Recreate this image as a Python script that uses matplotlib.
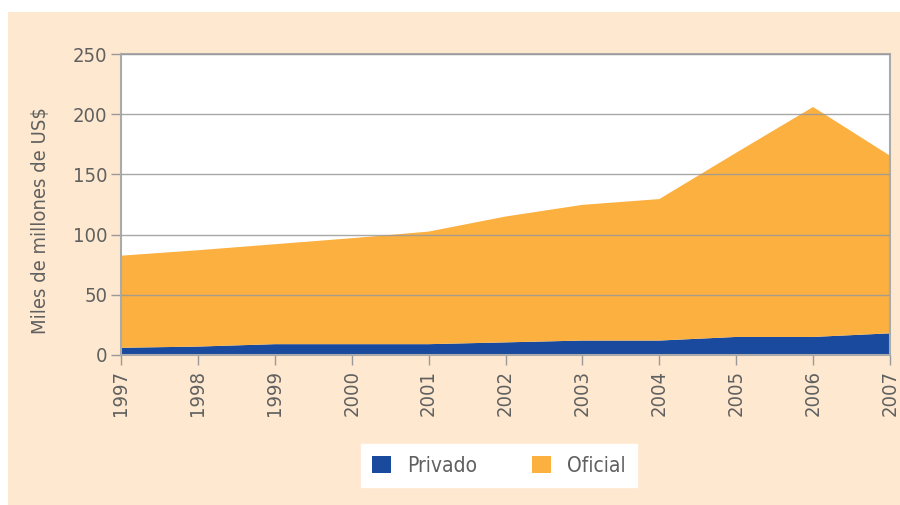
import matplotlib
matplotlib.use("Agg")
import matplotlib.pyplot as plt
from matplotlib.patches import Rectangle
import matplotlib.font_manager as fm

years = [1997, 1998, 1999, 2000, 2001, 2002, 2003, 2004, 2005, 2006, 2007]
privado = [6, 7, 9, 9, 9, 10.5, 12, 12, 15, 15, 18]
total = [82.5, 87, 92, 97, 102.5, 115, 124.7, 129.5, 168, 206, 165.5]
oficial = [t - p for t, p in zip(total, privado)]
yticks = [0, 50, 100, 150, 200, 250]

names = {f.name for f in fm.fontManager.ttflist}
font = "Liberation Sans Narrow" if "Liberation Sans Narrow" in names else "DejaVu Sans"
plt.rcParams['font.family'] = [font, 'DejaVu Sans']
plt.rcParams['font.stretch'] = 'condensed'

BLUE = "#1a4a9e"
ORANGE = "#fbb040"
PEACH = "#fee8cf"
GRAY = "#999999"
TXT = "#606060"

fig = plt.figure(figsize=(9, 5.05), dpi=100)
fig.patch.set_facecolor("white")
bg = Rectangle((8/900, 0), 1 - 8/900, (505-12)/505, transform=fig.transFigure,
               facecolor=PEACH, edgecolor="none", zorder=-5)
fig.patches.append(bg)

ax = fig.add_axes([121/900, (505-355)/505, 769/900, 301/505])
ax.set_zorder(1)
ax.set_facecolor("white")
ax.stackplot(years, privado, oficial, colors=[BLUE, ORANGE], labels=["Privado", "Oficial"],
             linewidth=0, zorder=1)
ax.set_xlim(1997, 2007)
ax.set_ylim(0, 250)
ax.set_yticks(yticks)
ax.set_xticks(years)
ax.set_xticklabels([str(y) for y in years], rotation=90)
for y in yticks[1:]:
    ax.axhline(y, color=GRAY, lw=1, zorder=3, alpha=0.85)
for s in ax.spines.values():
    s.set_color("#aaaaaa")
    s.set_linewidth(1.5)
ax.tick_params(axis='both', colors="#999999", labelcolor=TXT, labelsize=14.5, length=7, width=1)
ax.tick_params(axis='x', pad=4)
ax.tick_params(axis='y', pad=3)
ax.set_ylabel("Miles de millones de US$", fontsize=14.5, color=TXT)
ax.yaxis.set_label_coords((50 - 121) / 769, (355 - 221) / 301)

h, l = ax.get_legend_handles_labels()
leg = fig.legend(h, l, loc="center", bbox_to_anchor=(499/900, (505-465.5)/505), ncol=2,
                 frameon=True, fancybox=False, edgecolor="white", facecolor="white",
                 fontsize=15, handlelength=0.9, handleheight=0.9, columnspacing=2.6,
                 handletextpad=0.8, borderpad=0.55, framealpha=1)
leg.set_zorder(2)
for t in leg.get_texts():
    t.set_color(TXT)

fig.savefig("out.png", dpi=100, facecolor=fig.get_facecolor())
